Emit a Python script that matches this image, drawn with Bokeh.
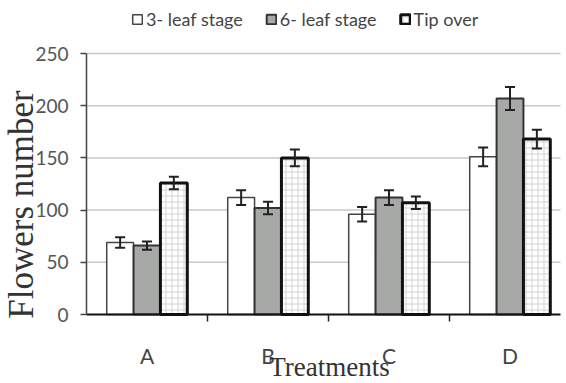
import math
from bokeh.plotting import figure
from bokeh.models import (Range1d, FixedTicker, ColumnDataSource, Whisker, Legend,
                          LegendItem, Label, TeeHead)
from bokeh.embed import file_html
from bokeh.resources import INLINE

treatments = ["A", "B", "C", "D"]
series_names = ["3- leaf stage", "6- leaf stage", "Tip over"]
stage3 = [69, 112, 96, 151]
stage3_err = [5, 7, 7, 9]
stage6 = [66, 102, 112, 207]
stage6_err = [4, 6, 7, 11]
tipover = [126, 150, 107, 168]
tipover_err = [6, 8, 6, 9]
y_ticks = [0, 50, 100, 150, 200, 250]

SANS = "Lato"
SERIF = "Liberation Serif"

W, H = 566, 383
# layout in pixels (frame covers the whole canvas; axes are placed inside)
AX_X, AX_Y, TOP_Y = 86, 314, 53
PX_PER_CAT = 121.0
PX_PER_UNIT = (AX_Y - TOP_Y) / 250.0
x_start = -AX_X / PX_PER_CAT
x_end = (W - AX_X) / PX_PER_CAT
x_line_end = (560 - AX_X) / PX_PER_CAT
y_start = -(H - AX_Y) / PX_PER_UNIT
y_end = 250 + TOP_Y / PX_PER_UNIT

p = figure(width=W, height=H, output_backend="svg", toolbar_location=None,
           x_range=Range1d(x_start, x_end), y_range=Range1d(y_start, y_end),
           min_border=0, min_border_left=0, min_border_right=0,
           min_border_top=0, min_border_bottom=0)
p.outline_line_color = None
p.background_fill_color = "white"
p.border_fill_color = "white"
p.xgrid.visible = False
p.ygrid.visible = False

# horizontal grid lines at the y ticks, between the axis and the right edge
p.segment(x0=[0] * len(y_ticks[1:]), x1=[x_line_end] * len(y_ticks[1:]),
          y0=y_ticks[1:], y1=y_ticks[1:], line_color="#c9c9c9", line_width=1.5)

bw = 0.222
offsets = [-bw, 0.0, bw]
vals = [stage3, stage6, tipover]
errs = [stage3_err, stage6_err, tipover_err]
styles = [
    dict(fill_color="white", line_color="#444444", line_width=1.5),
    dict(fill_color="#a7a9a7", line_color="#333333", line_width=2),
    dict(fill_color="white", line_color="#111111", line_width=3,
         hatch_pattern="cross", hatch_color="#d2d2d2", hatch_scale=6, hatch_weight=1),
]

renderers = []
for k in range(3):
    xs = [i + 0.5 + offsets[k] for i in range(len(treatments))]
    src = ColumnDataSource(dict(x=xs, top=vals[k],
                                upper=[v + e for v, e in zip(vals[k], errs[k])],
                                lower=[v - e for v, e in zip(vals[k], errs[k])]))
    r = p.vbar(x="x", top="top", width=bw, bottom=0, source=src, **styles[k])
    renderers.append(r)
    w = Whisker(source=src, base="x", upper="upper", lower="lower",
                line_color="#222222", line_width=2, level="overlay",
                upper_head=TeeHead(size=10, line_color="#222222", line_width=2),
                lower_head=TeeHead(size=10, line_color="#222222", line_width=2))
    p.add_layout(w)

# y axis
ya = p.yaxis[0]
ya.fixed_location = 0
ya.bounds = (0, 250)
ya.ticker = FixedTicker(ticks=y_ticks, minor_ticks=[])
ya.axis_line_color = "#444444"
ya.axis_line_width = 1.5
ya.major_tick_line_color = "#444444"
ya.major_tick_line_width = 1.5
ya.major_tick_out = 6
ya.major_tick_in = 0
ya.major_label_text_font = SANS
ya.major_label_text_font_size = "19px"
ya.major_label_text_color = "#555555"
ya.major_label_standoff = 12

# x axis
xa = p.xaxis[0]
xa.fixed_location = 0
xa.bounds = (0, x_line_end)
centers = [i + 0.5 for i in range(len(treatments))]
xa.ticker = FixedTicker(ticks=centers, minor_ticks=[i for i in range(1, len(treatments))])
xa.major_label_overrides = {c: t for c, t in zip(centers, treatments)}
xa.major_tick_line_color = None
xa.major_tick_out = 0
xa.major_tick_in = 0
xa.minor_tick_line_color = "#222222"
xa.minor_tick_line_width = 1.5
xa.minor_tick_out = 7
xa.minor_tick_in = 0
xa.axis_line_color = "#111111"
xa.axis_line_width = 2
xa.major_label_text_font = SANS
xa.major_label_text_font_size = "21px"
xa.major_label_text_color = "#444444"
xa.major_label_standoff = 21

# axis titles
p.add_layout(Label(x=21, y=H - 204, x_units="screen", y_units="screen",
                   text="Flowers number", angle=math.pi / 2,
                   text_align="center", text_baseline="alphabetic",
                   text_font=SERIF, text_font_size="35px", text_color="#333333"))
p.add_layout(Label(x=329, y=H - 366, x_units="screen", y_units="screen",
                   text="Treatments", text_align="center", text_baseline="alphabetic",
                   text_font=SERIF, text_font_size="27px", text_color="#333333"))

legend = Legend(items=[LegendItem(label=n, renderers=[r]) for n, r in zip(series_names, renderers)],
                orientation="horizontal", location=(131, H - 30),
                label_text_font=SANS, label_text_font_size="18px",
                label_text_color="#444444", glyph_width=12, glyph_height=12,
                label_standoff=3, spacing=22, padding=2, margin=0,
                border_line_color=None, background_fill_alpha=0)
p.add_layout(legend)

open("out.html", "w").write(file_html(p, INLINE))
